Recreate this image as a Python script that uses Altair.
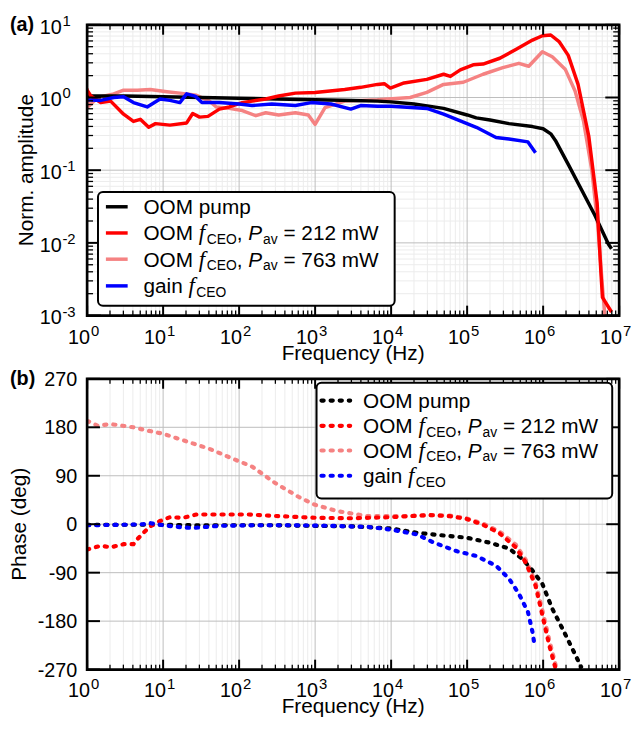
import altair as alt
import pandas as pd

# ---------------- data ----------------
# (a) normalised amplitude
amp_pump_f = [1, 3.16, 10, 31.6, 100, 316, 1000, 3160, 6610, 10000, 20000, 49000, 1.0e5, 1.32e5,
              2.0e5, 3.55e5, 7.24e5, 1.0e6, 1.26e6, 1.45e6, 2.14e6, 3.24e6, 4.79e6, 7.24e6, 7.94e6]
amp_pump_v = [1.047, 1.047, 1.023, 1.0, 0.977, 0.955, 0.933, 0.912, 0.891, 0.871, 0.813, 0.708, 0.575,
              0.525, 0.49, 0.437, 0.398, 0.372, 0.316, 0.257, 0.120, 0.0525, 0.024, 0.00955, 0.0083]

amp_212_f = [1, 1.12, 1.51, 2.04, 3.02, 4.07, 5.01, 6.46, 7.94, 12.3, 20.4, 24.5, 30.2, 38.9, 55.0,
             74.1, 110, 224, 331, 550, 1000, 2450, 3980, 6610, 8130, 9770, 14800, 29500, 49000,
             60300, 81300, 1.20e5, 1.62e5, 2.69e5, 4.37e5, 7.24e5, 9.77e5, 1.26e6, 1.62e6, 2.14e6,
             2.88e6, 3.98e6, 5.13e6, 5.75e6, 6.03e6, 7.94e6]
amp_212_v = [1.259, 1.047, 0.851, 0.891, 0.589, 0.468, 0.501, 0.389, 0.437, 0.417, 0.447, 0.603,
             0.537, 0.55, 0.692, 0.741, 0.851, 0.955, 1.047, 1.148, 1.175, 1.288, 1.38, 1.514,
             1.549, 1.349, 1.585, 1.778, 2.089, 1.95, 2.399, 2.818, 2.884, 3.467, 4.571, 6.166,
             7.079, 7.244, 5.888, 3.80, 1.514, 0.295, 0.0355, 0.004, 0.00178, 0.00112]

amp_763_f = [1, 1.05, 1.38, 2.24, 3.02, 4.57, 6.76, 11.2, 16.6, 27.5, 40.7, 50.1, 74.1, 110, 166,
             224, 331, 550, 813, 1000, 1350, 2450, 6610, 17800, 29500, 49000, 89100, 1.62e5,
             2.95e5, 4.79e5, 6.46e5, 9.77e5, 1.32e6, 1.95e6, 2.63e6, 3.39e6, 4.37e6, 5.25e6,
             6.03e6, 6.61e6]
amp_763_v = [1.349, 0.759, 1.0, 1.122, 1.259, 1.259, 1.288, 1.202, 1.148, 1.072, 0.891, 0.741,
             0.708, 0.661, 0.562, 0.617, 0.575, 0.617, 0.575, 0.427, 0.724, 0.891, 0.933, 1.0,
             1.175, 1.514, 1.622, 2.089, 2.57, 2.951, 2.69, 4.266, 3.631, 2.455, 1.23, 0.479,
             0.1, 0.017, 0.0025, 0.00079]

amp_gain_f = [1, 1.51, 2.24, 3.02, 4.07, 6.17, 9.12, 12.3, 16.6, 20.4, 26.3, 32.4, 55.0, 100, 148,
              269, 550, 891, 1620, 2950, 3980, 6610, 10000, 29500, 49000, 89100, 1.32e5, 2.40e5,
              3.55e5, 6.31e5, 7.94e5]
amp_gain_v = [0.933, 0.912, 1.0, 1.023, 0.851, 0.741, 0.955, 0.912, 0.851, 1.122, 1.047, 0.851,
              0.851, 0.813, 0.776, 0.813, 0.776, 0.851, 0.813, 0.692, 0.776, 0.759, 0.759, 0.708,
              0.589, 0.457, 0.389, 0.282, 0.269, 0.245, 0.174]

# (b) phase
ph_pump_f = [1, 3.16, 10, 31.6, 100, 316, 1000, 3160, 10000, 21900, 58900, 97700, 1.95e5, 3.55e5,
             5.37e5, 7.24e5, 9.77e5, 1.32e6, 1.78e6, 2.40e6, 3.16e6]
ph_pump_v = [-1, -1, -1, -2, -2, -2, -3, -4, -8, -16, -22, -25, -34, -45, -65, -86, -111, -157,
             -193, -230, -265]

ph_212_f = [1, 1.51, 2.04, 3.02, 4.07, 4.57, 5.5, 6.76, 9.12, 12.3, 18.2, 27.5, 55, 135, 331,
            1000, 2950, 9770, 32400, 58900, 97700, 1.62e5, 2.63e5, 4.37e5, 5.89e5, 7.94e5,
            9.77e5, 1.20e6, 1.45e6]
ph_212_v = [-47, -40, -43, -37, -37, -28, -16, -4, 6, 13, 12, 18, 18, 18, 15, 12, 11, 13, 17, 15,
            10, -1, -16, -43, -71, -114, -169, -224, -267]

ph_763_f = [1, 1.38, 2.04, 4.07, 6.17, 10, 18.2, 40.7, 81.3, 148, 302, 603, 1000, 2000, 4900,
            13200, 36300, 58900, 97700, 1.62e5, 2.63e5, 4.37e5, 5.89e5, 7.94e5, 9.77e5, 1.20e6,
            1.51e6]
ph_763_v = [192, 183, 186, 180, 174, 168, 156, 140, 122, 107, 76, 51, 36, 24, 15, 15, 17, 16, 11,
            1, -13, -38, -66, -108, -160, -214, -270]

ph_gain_f = [1, 3.16, 5.5, 6.76, 10, 18.2, 24.5, 55, 148, 501, 1580, 5010, 10000, 21900, 36300,
             72400, 1.32e5, 2.40e5, 3.55e5, 4.79e5, 6.31e5, 7.24e5, 7.76e5]
ph_gain_v = [-2, -1, 0, 2, -2, -6, -7, -3, -2, -2, -3, -5, -10, -19, -34, -50, -59, -77, -101,
             -129, -163, -200, -227]

# tick labels
x_tick_values = [1, 10, 100, 1000, 1e4, 1e5, 1e6, 1e7]
x_tick_exps = ["0", "1", "2", "3", "4", "5", "6", "7"]
amp_tick_values = [1e-3, 1e-2, 1e-1, 1, 10]
amp_tick_exps = ["-3", "-2", "-1", "0", "1"]
phase_tick_values = [-270, -180, -90, 0, 90, 180, 270]
phase_tick_labels = ["-270", "-180", "-90", "0", "90", "180", "270"]

# ---------------- styling ----------------
W, H = 538, 294
FONT = "Liberation Sans"
SERIF = "Liberation Serif"
BLACK, RED, PINK, BLUE = "#000000", "#ff0000", "#f58282", "#0000ff"
MAJ_GRID, MIN_GRID = "#bdbdbd", "#ececec"
DOTS = [2.2, 7]

XS = alt.Scale(type="log", domain=[1, 1e7], nice=False)
YA = alt.Scale(type="log", domain=[1e-3, 10], nice=False)
YP = alt.Scale(type="linear", domain=[-270, 270], nice=False, zero=False)

dummy = pd.DataFrame({"d": [0]})

x_minor = [m * 10.0 ** k for k in range(0, 7) for m in range(2, 10)]
ya_minor = [m * 10.0 ** k for k in range(-3, 1) for m in range(2, 10)]


def vdf(v):
    return pd.DataFrame({"v": v})


def vgrid(values, color):
    return alt.Chart(vdf(values)).mark_rule(color=color, strokeWidth=1).encode(
        x=alt.X("v:Q", scale=XS, axis=None))


def hgrid(values, scale, color):
    return alt.Chart(vdf(values)).mark_rule(color=color, strokeWidth=1).encode(
        y=alt.Y("v:Q", scale=scale, axis=None))


def xticks(values, length, width):
    base = alt.Chart(vdf(values)).mark_rule(color="black", strokeWidth=width)
    xe = alt.X("v:Q", scale=XS, axis=None)
    return [base.encode(x=xe, y=alt.value(H), y2=alt.value(H - length)),
            base.encode(x=xe, y=alt.value(0), y2=alt.value(length))]


def yticks(values, scale, length, width):
    base = alt.Chart(vdf(values)).mark_rule(color="black", strokeWidth=width)
    ye = alt.Y("v:Q", scale=scale, axis=None)
    return [base.encode(y=ye, x=alt.value(0), x2=alt.value(length)),
            base.encode(y=ye, x=alt.value(W), x2=alt.value(W - length))]


def frame():
    return alt.Chart(dummy).mark_rect(fillOpacity=0, stroke="black", strokeWidth=2.7).encode(
        x=alt.value(0), x2=alt.value(W), y=alt.value(0), y2=alt.value(H))


def series_line(f, v, yscale, color, dotted):
    df = pd.DataFrame({"f": f, "v": v})
    if dotted:
        mk = alt.Chart(df).mark_line(color=color, clip=True, strokeWidth=4.2,
                                     strokeDash=DOTS, strokeCap="round")
    else:
        mk = alt.Chart(df).mark_line(color=color, clip=True, strokeWidth=3.5,
                                     strokeJoin="round")
    return mk.encode(x=alt.X("f:Q", scale=XS, axis=None),
                     y=alt.Y("v:Q", scale=yscale, axis=None))


def x_labels(base_off):
    df = pd.DataFrame({"v": x_tick_values, "b": ["10"] * len(x_tick_values), "e": x_tick_exps})
    xe = alt.X("v:Q", scale=XS, axis=None)
    b = alt.Chart(df).mark_text(align="right", baseline="alphabetic", fontSize=20, font=FONT,
                                dx=3).encode(x=xe, y=alt.value(H + base_off), text="b:N")
    e = alt.Chart(df).mark_text(align="left", baseline="alphabetic", fontSize=15, font=FONT,
                                dx=4).encode(x=xe, y=alt.value(H + base_off - 8), text="e:N")
    return [b, e]


def amp_y_labels():
    df = pd.DataFrame({"v": amp_tick_values, "b": ["10"] * len(amp_tick_values),
                       "e": amp_tick_exps})
    ye = alt.Y("v:Q", scale=YA, axis=None)
    b = alt.Chart(df).mark_text(align="left", baseline="alphabetic", fontSize=20, font=FONT,
                                dy=9).encode(y=ye, x=alt.value(-48), text="b:N")
    e = alt.Chart(df).mark_text(align="left", baseline="alphabetic", fontSize=15, font=FONT,
                                dy=1).encode(y=ye, x=alt.value(-25), text="e:N")
    return [b, e]


def phase_y_labels():
    df = pd.DataFrame({"v": phase_tick_values, "t": phase_tick_labels})
    return [alt.Chart(df).mark_text(align="right", baseline="middle", fontSize=20, font=FONT,
                                    dy=1).encode(y=alt.Y("v:Q", scale=YP, axis=None),
                                                 x=alt.value(-10), text="t:N")]


def txt(t, x, y, **kw):
    return alt.Chart(dummy).mark_text(**kw).encode(x=alt.value(x), y=alt.value(y),
                                                   text=alt.value(t))


# -------- legend (text with sub-scripts) --------
AW = {' ': 278, ',': 278, '=': 584, 'O': 778, 'M': 833, 'p': 556, 'u': 556, 'm': 833,
      'g': 556, 'a': 556, 'i': 222, 'n': 556, 'W': 944, 'C': 722, 'E': 667, 'v': 500,
      'P': 667}
LS, SS = 21, 14  # legend / subscript font sizes

legend_names = ["OOM pump", "OOM fCEO 212", "OOM fCEO 763", "gain fCEO"]
legend_colors = [BLACK, RED, PINK, BLUE]
legend_parts = {
    "OOM pump": [("OOM pump", "n")],
    "OOM fCEO 212": [("OOM ", "n"), ("f", "f"), ("CEO", "s"), (", ", "n"), ("P", "i"),
                     ("av", "s"), (" = 212 mW", "n")],
    "OOM fCEO 763": [("OOM ", "n"), ("f", "f"), ("CEO", "s"), (", ", "n"), ("P", "i"),
                     ("av", "s"), (" = 763 mW", "n")],
    "gain fCEO": [("gain ", "n"), ("f", "f"), ("CEO", "s")],
}


def seg_width(s, kind):
    if kind == "f":
        return 0.278 * 23 + 1.5
    size = SS if kind == "s" else LS
    w = sum(AW.get(c, 556) for c in s) / 1000 * size
    return w + (1.0 if kind == "i" else 0.0)


def legend(box, line_x, text_x, rows, dotted):
    x0, x1, y0, y1 = box
    layers = [alt.Chart(dummy).mark_rect(fill="white", stroke="black", strokeWidth=2,
                                         cornerRadius=5).encode(
        x=alt.value(x0), x2=alt.value(x1), y=alt.value(y0), y2=alt.value(y1))]
    for name, color, ry in zip(legend_names, legend_colors, rows):
        if dotted:
            rule = alt.Chart(dummy).mark_rule(color=color, strokeWidth=4.2,
                                              strokeDash=DOTS, strokeCap="round")
        else:
            rule = alt.Chart(dummy).mark_rule(color=color, strokeWidth=3.5)
        layers.append(rule.encode(x=alt.value(line_x[0]), x2=alt.value(line_x[1]),
                                  y=alt.value(ry)))
        px = text_x
        base_y = ry + 7.5
        for s, kind in legend_parts[name]:
            # SVG drops leading blanks: advance past them instead
            lead = len(s) - len(s.lstrip(" "))
            if lead:
                px += seg_width(" " * lead, kind)
                s = s.lstrip(" ")
            if kind == "n":
                layers.append(txt(s, px, base_y, align="left", baseline="alphabetic",
                                  fontSize=LS, font=FONT))
            elif kind == "i":
                layers.append(txt(s, px, base_y, align="left", baseline="alphabetic",
                                  fontSize=LS, font=FONT, fontStyle="italic"))
            elif kind == "f":
                layers.append(txt(s, px, base_y, align="left", baseline="alphabetic",
                                  fontSize=23, font=SERIF, fontStyle="italic"))
            else:
                layers.append(txt(s, px, base_y + 3.5, align="left", baseline="alphabetic",
                                  fontSize=SS, font=FONT))
            px += seg_width(s, kind)
    return layers


# ---------------- panel (a) ----------------
top_layers = [
    vgrid(x_minor, MIN_GRID),
    hgrid(ya_minor, YA, MIN_GRID),
    vgrid(x_tick_values[1:-1], MAJ_GRID),
    hgrid(amp_tick_values[1:-1], YA, MAJ_GRID),
    series_line(amp_763_f, amp_763_v, YA, PINK, False),
    series_line(amp_pump_f, amp_pump_v, YA, BLACK, False),
    series_line(amp_212_f, amp_212_v, YA, RED, False),
    series_line(amp_gain_f, amp_gain_v, YA, BLUE, False),
    frame(),
]
top_layers += xticks(x_tick_values, 10, 2) + xticks(x_minor, 5, 1.3)
top_layers += yticks(amp_tick_values, YA, 14, 2) + yticks(ya_minor, YA, 6, 1.3)
top_layers += x_labels(29) + amp_y_labels()
top_layers += [
    txt("Norm. amplitude", -61, H / 2, angle=270, align="center", baseline="middle",
        fontSize=21, font=FONT),
    txt("Frequency (Hz)", W / 2, H + 45, align="center", baseline="alphabetic",
        fontSize=21, font=FONT),
    txt("(a)", -78, 6, align="left", baseline="alphabetic", fontSize=20, font=FONT,
        fontWeight="bold"),
]
top_layers += legend((11, 311, 169, 284), (19, 41), 57, [184, 210.5, 237, 264], False)

# ---------------- panel (b) ----------------
bot_layers = [
    vgrid(x_minor, MIN_GRID),
    vgrid(x_tick_values[1:-1], MAJ_GRID),
    hgrid(phase_tick_values[1:-1], YP, MAJ_GRID),
    series_line(ph_763_f, ph_763_v, YP, PINK, True),
    series_line(ph_pump_f, ph_pump_v, YP, BLACK, True),
    series_line(ph_212_f, ph_212_v, YP, RED, True),
    series_line(ph_gain_f, ph_gain_v, YP, BLUE, True),
    frame(),
]
bot_layers += xticks(x_tick_values, 10, 2) + xticks(x_minor, 5, 1.3)
bot_layers += yticks(phase_tick_values, YP, 13, 2)
bot_layers += x_labels(28) + phase_y_labels()
bot_layers += [
    txt("Phase (deg)", -68, H / 2, angle=270, align="center", baseline="middle",
        fontSize=21, font=FONT),
    txt("Frequency (Hz)", W / 2, H + 44, align="center", baseline="alphabetic",
        fontSize=21, font=FONT),
    txt("(b)", -78, 6, align="left", baseline="alphabetic", fontSize=20, font=FONT,
        fontWeight="bold"),
]
bot_layers += legend((232, 531, 4, 121), (237, 266), 279, [22, 47.5, 72.5, 98], True)

top = alt.layer(*top_layers).properties(width=W, height=H)
bot = alt.layer(*bot_layers).properties(width=W, height=H)

chart = (
    alt.vconcat(top, bot, spacing=64, bounds="flush")
    .resolve_scale(x="independent", y="independent")
    .properties(padding={"left": 0, "top": 1, "right": 0, "bottom": 0})
    .configure_view(strokeWidth=0)
    .configure(font=FONT)
)

chart.save("out.html", embed_options={"renderer": "svg", "actions": False})
